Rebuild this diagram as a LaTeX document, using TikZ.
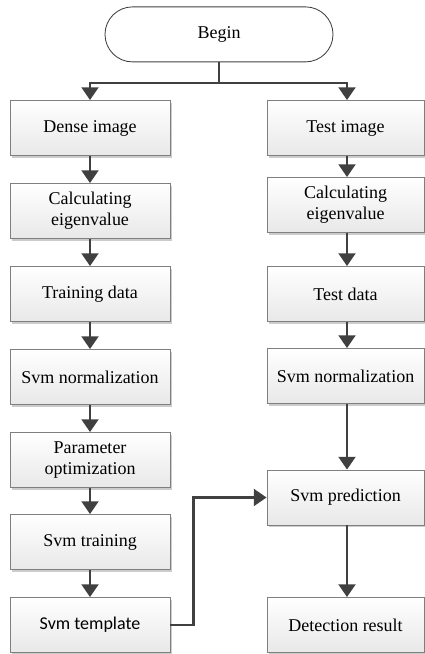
\documentclass[tikz,border=0pt]{standalone}
\usepackage{fontspec}
\setmainfont{Liberation Serif}
\newfontfamily\timesfont{Liberation Serif}
\newfontfamily\calibrifont{Carlito}
\usetikzlibrary{arrows.meta,shadows}
\definecolor{FlowLine}{HTML}{404040}
\definecolor{FlowEdge}{HTML}{7F7F7F}

\begin{document}
\begin{tikzpicture}[x=1cm,y=1cm,
  procbox/.style={draw=FlowEdge,line width=0.6pt,top color=white,bottom color=black!9,
    drop shadow={shadow xshift=0.05cm,shadow yshift=-0.06cm,fill=black!20,opacity=1},
    minimum height=1.375cm,inner sep=0pt,align=center,font=\timesfont\fontsize{12.8}{15.2}\selectfont},
  leftbox/.style={procbox,minimum width=4.0cm},
  rightbox/.style={procbox,minimum width=3.925cm},
  startbox/.style={draw=FlowLine,line width=0.6pt,fill=white,rounded corners=0.6875cm,
    minimum width=5.7cm,minimum height=1.375cm,font=\timesfont\fontsize{12.8}{15.2}\selectfont},
  flow/.style={draw=FlowLine,line width=1.9pt,-{Triangle[length=0.32cm,width=0.42cm]}}]
\path[use as bounding box] (0,0) rectangle (10.60,16.35);
% start
\node[startbox] (begin) at (5.475,15.49) {Begin};
\coordinate (splitL) at (2.25,14.275);
\coordinate (splitR) at (8.675,14.275);
% training branch
\node[leftbox] (dense) at (2.25,13.15) {Dense image};
\node[leftbox] (eigenL) at (2.25,11.075) {Calculating\\eigenvalue};
\node[leftbox] (train) at (2.25,9.0) {Training data};
\node[leftbox] (normL) at (2.25,6.925) {Svm normalization};
\node[leftbox] (param) at (2.25,4.85) {Parameter\\optimization};
\node[leftbox] (svmtrain) at (2.25,2.8) {Svm training};
\node[leftbox,font=\calibrifont\fontsize{12.8}{15.2}\selectfont] (tmpl) at (2.25,0.725) {Svm template};
% test branch
\node[rightbox] (test) at (8.6375,13.15) {Test image};
\node[rightbox] (eigenR) at (8.6375,11.225) {Calculating\\eigenvalue};
\node[rightbox] (testdata) at (8.6375,9.0) {Test data};
\node[rightbox] (normR) at (8.6375,6.95) {Svm normalization};
\node[rightbox] (pred) at (8.6375,3.9125) {Svm prediction};
\node[rightbox] (result) at (8.6375,0.725) {Detection result};
% connectors
\draw[flow] (begin.south) |- (splitL) -- (dense.north);
\draw[flow] (begin.south) |- (splitR) -- (splitR |- test.north);
\draw[flow] (dense) -- (eigenL);
\draw[flow] (eigenL) -- (train);
\draw[flow] (train) -- (normL);
\draw[flow] (normL) -- (param);
\draw[flow] (param) -- (svmtrain);
\draw[flow] (svmtrain) -- (tmpl);
\draw[flow] (splitR |- test.south) -- (splitR |- eigenR.north);
\draw[flow] (splitR |- eigenR.south) -- (splitR |- testdata.north);
\draw[flow] (splitR |- testdata.south) -- (splitR |- normR.north);
\draw[flow] (splitR |- normR.south) -- (splitR |- pred.north);
\draw[flow] (splitR |- pred.south) -- (splitR |- result.north);
\draw[flow] (tmpl.east) -- ++(0.575,0) |- (pred.west);
\end{tikzpicture}
\end{document}
